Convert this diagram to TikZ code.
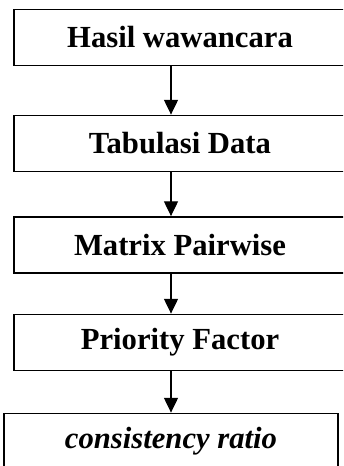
\documentclass[tikz,border=0pt]{standalone}
\usepackage{fontspec}
\setmainfont{Liberation Serif}
\usetikzlibrary{arrows.meta}

\tikzset{%
        stage/.style={
                rectangle,
                draw,
                line width=1.3pt,
                fill=white,
                minimum width=8.3cm,
                minimum height=1.4cm,
                font=\fontsize{21.8}{26}\selectfont\bfseries
            }
    }

\begin{document}
\begin{tikzpicture}[x=0.025cm, y=-0.025cm, >={Triangle[width=10pt,length=10.5pt]}]
    \useasboundingbox (0,0) rectangle (343,466);
    \clip (0,0) rectangle (343,466);

    % steps of the analysis:
        \node [stage]  (hasil) at (180,37.5) {Hasil wawancara};
        \node [stage]  (tab) at (180,143.5) {Tabulasi Data};
        \node [stage]  (mat) at (180,245) {Matrix Pairwise};
        \node [stage]  (prio) at (180,342.5) {Priority Factor};
        \node [stage, minimum width=8.35cm, font=\fontsize{21.8}{26}\selectfont\bfseries\itshape]  (cr) at (171,441.5) {consistency ratio};

        \draw[->, line width=0.8pt] (hasil.south -| 171,0) -- (tab.north -| 171,0);
        \draw[->, line width=0.8pt] (tab.south -| 171,0) -- (mat.north -| 171,0);
        \draw[->, line width=0.8pt] (mat.south -| 171,0) -- (prio.north -| 171,0);
        \draw[->, line width=0.8pt] (prio.south -| 171,0) -- (cr.north);
\end{tikzpicture}
\end{document}
